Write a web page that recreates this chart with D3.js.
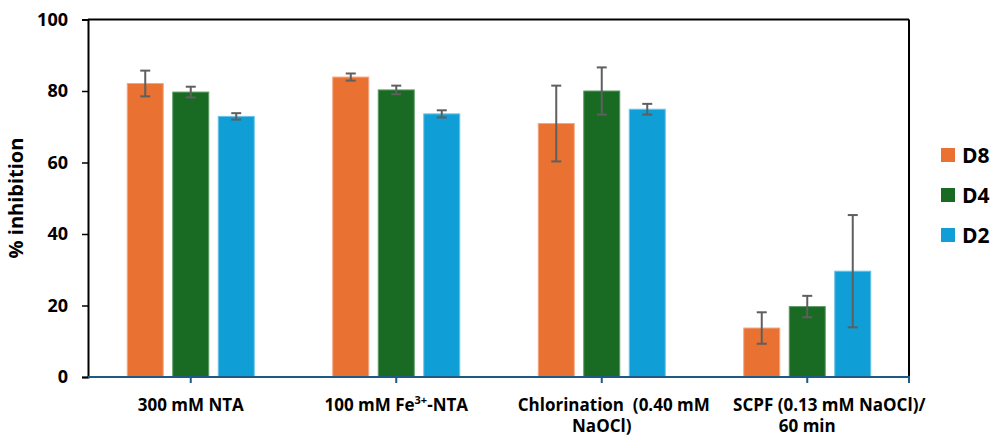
<!DOCTYPE html>
<html>
<head>
<meta charset="utf-8">
<script src="https://cdn.jsdelivr.net/npm/d3@7"></script>
<style>
  body { margin: 0; background: #fff; }
  svg text { font-family: "Open Sans", "Liberation Sans", sans-serif; font-weight: bold; fill: #000; white-space: pre; }
</style>
</head>
<body>
<div id="chart"></div>
<script>
// categories
const categories = ["300 mM NTA", "100 mM Fe3+-NTA", "Chlorination (0.40 mM NaOCl)", "SCPF (0.13 mM NaOCl)/ 60 min"];
const series = ["D8", "D4", "D2"];
const colors = ["#E97132", "#196B24", "#0F9ED5"];
const strokes = ["#F2A783", "#5E9966", "#6CC3E6"];

// mean values per series, one entry per category
const valD8 = [82.1, 83.9, 70.9, 13.7];
const valD4 = [79.7, 80.3, 80.0, 19.7];
const valD2 = [72.9, 73.6, 74.9, 29.6];
// error bar half width (+/-)
const errD8 = [3.6, 1.0, 10.6, 4.4];
const errD4 = [1.5, 1.2, 6.6, 3.0];
const errD2 = [0.9, 1.0, 1.5, 15.7];

const yTicks = [0, 20, 40, 60, 80, 100];

const W = 990, H = 437;
const m = {left: 88, right: 80, top: 19.5, bottom: 60};

const svg = d3.select('#chart').append('svg').attr('width', W).attr('height', H);

const x0 = d3.scaleBand().domain(categories).range([m.left, 910]).padding(0);
const groupW = 127;
const x1 = d3.scaleBand().domain(series)
  .range([(x0.bandwidth() - groupW) / 2, (x0.bandwidth() + groupW) / 2])
  .paddingInner(0.209).paddingOuter(0);
const y = d3.scaleLinear().domain([0, 100]).range([H - 60, m.top]);

const vals = [valD8, valD4, valD2];
const errs = [errD8, errD4, errD2];

// frame (top + right)
svg.append('line').attr('x1', m.left).attr('x2', 909).attr('y1', y(100)).attr('y2', y(100))
  .attr('stroke', '#000').attr('stroke-width', 2);
svg.append('line').attr('x1', 909).attr('x2', 909).attr('y1', y(100)).attr('y2', y(0))
  .attr('stroke', '#000').attr('stroke-width', 2);

// bars
series.forEach(function(s, si) {
  const g = svg.append('g');
  g.selectAll('rect').data(categories).enter().append('rect')
    .attr('x', (c) => x0(c) + x1(s))
    .attr('y', (c, i) => y(vals[si][i]))
    .attr('width', x1.bandwidth())
    .attr('height', (c, i) => y(0) - y(vals[si][i]))
    .attr('fill', colors[si])
    .attr('stroke', strokes[si])
    .attr('stroke-width', 1);
});

// error bars
series.forEach(function(s, si) {
  categories.forEach(function(c, i) {
    const cx = x0(c) + x1(s) + x1.bandwidth() / 2;
    const hi = y(vals[si][i] + errs[si][i]);
    const lo = y(vals[si][i] - errs[si][i]);
    const g = svg.append('g').attr('stroke', '#5f5f5f').attr('stroke-width', 2);
    g.append('line').attr('x1', cx).attr('x2', cx).attr('y1', hi).attr('y2', lo);
    g.append('line').attr('x1', cx - 5).attr('x2', cx + 5).attr('y1', hi).attr('y2', hi);
    g.append('line').attr('x1', cx - 5).attr('x2', cx + 5).attr('y1', lo).attr('y2', lo);
  });
});

// y axis
const yAxis = svg.append('g').attr('transform', 'translate(' + m.left + ',0)')
  .call(d3.axisLeft(y).tickValues(yTicks).tickSize(6).tickPadding(14));
yAxis.select('.domain').attr('stroke', '#000').attr('stroke-width', 2);
yAxis.selectAll('.tick line').attr('stroke', '#000').attr('stroke-width', 1.5);
yAxis.selectAll('.tick text').style('font-size', '18px').attr('fill', '#000');

// x axis
const xBase = svg.append('g').attr('transform', 'translate(0,' + y(0) + ')');
xBase.append('line').attr('x1', m.left).attr('x2', 910).attr('stroke', '#1F5A85').attr('stroke-width', 2);
const tickPos = categories.map((c) => x0(c) + x0.bandwidth() / 2).concat([909]);
xBase.selectAll('.xt').data(tickPos).enter().append('line')
  .attr('x1', (d) => d).attr('x2', (d) => d).attr('y1', 0).attr('y2', 6)
  .attr('stroke', '#1F5A85').attr('stroke-width', 2);

// category labels
const labelLines = [
  [["300 mM NTA"]],
  [["100 mM Fe"], ["3+", true], ["-NTA"]],
  [["Chlorination  (0.40 mM"]],
  [["SCPF (0.13 mM NaOCl)/"]]
];
const secondLines = [null, null, "NaOCl)", "60 min"];
const firstDx = [0, 0, 12, 22];
categories.forEach(function(c, i) {
  const cx = x0(c) + x0.bandwidth() / 2;
  const t = svg.append('text').attr('x', cx + firstDx[i]).attr('y', y(0) + 34)
    .attr('text-anchor', 'middle').style('font-size', '17px');
  labelLines[i].forEach(function(p) {
    const ts = t.append('tspan').text(p[0]);
    if (p[1]) ts.style('font-size', '11px').attr('baseline-shift', 'super');
  });
  if (secondLines[i]) {
    svg.append('text').attr('x', cx).attr('y', y(0) + 55)
      .attr('text-anchor', 'middle').style('font-size', '17px').text(secondLines[i]);
  }
});

// y title
svg.append('text').attr('transform', 'translate(23,198) rotate(-90)')
  .attr('text-anchor', 'middle').style('font-size', '20px').text('% inhibition');

// legend
const leg = svg.append('g').attr('transform', 'translate(941,148)');
series.forEach(function(s, i) {
  leg.append('rect').attr('x', 0).attr('y', i * 40).attr('width', 14).attr('height', 14).attr('fill', colors[i]);
  leg.append('text').attr('x', 21).attr('y', i * 40 + 15).style('font-size', '21px').text(s);
});
</script>
</body>
</html>
